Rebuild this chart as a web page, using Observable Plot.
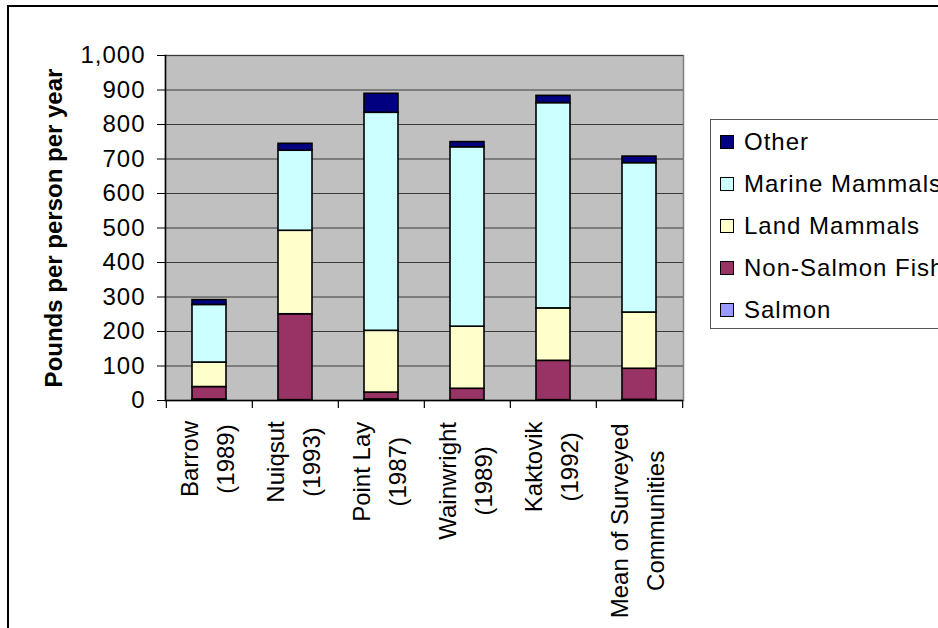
<!DOCTYPE html>
<html>
<head>
<meta charset="utf-8">
<script src="https://cdn.jsdelivr.net/npm/d3@7"></script>
<script src="https://cdn.jsdelivr.net/npm/@observablehq/plot@0.6"></script>
<style>
  html, body { margin: 0; padding: 0; background: #fff; overflow: hidden; width: 938px; height: 628px; }
  #wrap { position: relative; width: 938px; height: 628px; overflow: hidden; font-family: "Liberation Sans", Arial, sans-serif; }
  #frame { position: absolute; left: 7px; top: 5px; width: 1000px; height: 700px; border: 2px solid #000; box-sizing: border-box; }
  #chart { position: absolute; left: 0; top: 0; }
  #legend { position: absolute; left: 710px; top: 119px; width: 300px; height: 210px; border: 1px solid #555; background: #fff; box-sizing: border-box; }
  .item { position: absolute; left: 9px; height: 30px; display: flex; align-items: center; font-size: 24px; letter-spacing: 1px; color: #000; white-space: nowrap; }
  .sw { width: 12px; height: 12px; border: 1px solid #000; margin-right: 10px; }
</style>
</head>
<body>
<div id="wrap">
  <div id="frame"></div>
  <div id="chart"></div>
  <div id="legend"></div>
</div>
<script>
// ---- data ----
const communities = ["Barrow\n(1989)", "Nuiqsut\n(1993)", "Point Lay\n(1987)", "Wainwright\n(1989)", "Kaktovik\n(1992)", "Mean of Surveyed\nCommunities"];
const seriesOrder = ["Salmon", "Non-Salmon Fish", "Land Mammals", "Marine Mammals", "Other"];
const legendOrder = ["Other", "Marine Mammals", "Land Mammals", "Non-Salmon Fish", "Salmon"];
const seriesColors = ["#9999FF", "#993366", "#FFFFCC", "#CCFFFF", "#000080"];
const salmon = [3, 1, 3, 1, 1, 2];
const nonSalmonFish = [36, 249, 20, 33, 114, 90];
const landMammals = [71, 242, 179, 180, 152, 163];
const marineMammals = [167, 232, 632, 520, 595, 433];
const other = [14, 20, 55, 15, 21, 19];
const yTicks = [0, 100, 200, 300, 400, 500, 600, 700, 800, 900, 1000];
const yTitle = "Pounds per person per year";

const seriesValues = [salmon, nonSalmonFish, landMammals, marineMammals, other];
const rows = [];
seriesOrder.forEach((s, si) => {
  communities.forEach((c, ci) => rows.push({community: c, type: s, value: seriesValues[si][ci]}));
});

const W = 938, H = 628;
const mL = 165, mR = 255, mT = 55, mB = 228;
const step = (W - mL - mR) / communities.length;
const fontFam = "'Liberation Sans', Arial, sans-serif";
const fs = 24;
const lsX = 0.5;

const canvas = document.createElement("canvas");
const ctx = canvas.getContext("2d");
ctx.font = fs + "px 'Liberation Sans'";
const longest = (s) => Math.max(...s.split("\n").map(l => ctx.measureText(l).width + l.length * lsX));

const labelMarks = communities.map(c => Plot.text([c], {
  x: d => d, frameAnchor: "bottom", rotate: -90, textAnchor: "middle", lineAnchor: "middle",
  dx: -5, dy: 19 + longest(c) / 2, fontSize: fs, lineHeight: 1.52, fill: "#000", ariaLabel: "xlabel"
}));

const chart = Plot.plot({
  width: W, height: H,
  marginLeft: mL, marginRight: mR, marginTop: mT, marginBottom: mB,
  style: {fontFamily: fontFam, background: "transparent", color: "#000", overflow: "visible"},
  x: {domain: communities, paddingInner: 0.6, paddingOuter: 0.3, axis: null},
  y: {domain: [0, 1000], axis: null},
  color: {domain: seriesOrder, range: seriesColors},
  marks: [
    Plot.frame({fill: "#C0C0C0", stroke: "#808080", strokeWidth: 1.5}),
    Plot.gridY(yTicks, {stroke: "#3a3a3a", strokeOpacity: 1, strokeWidth: 1.2}),
    Plot.barY(rows, {x: "community", y: "value", fill: "type", stroke: "#000", strokeWidth: 1.6, order: seriesOrder}),
    Plot.ruleY([0], {stroke: "#000", strokeWidth: 1.5}),
    Plot.frame({anchor: "left", stroke: "#000", strokeWidth: 1.5}),
    Plot.axisY(yTicks, {tickSize: 8, tickPadding: 12, tickFormat: d3.format(","), fontSize: fs, stroke: "#000", fill: "#000", label: null}),
    Plot.ruleX(communities, {x: d => d, dx: -step / 2, insetTop: H - mT - mB, insetBottom: -8, stroke: "#000", strokeWidth: 1.2}),
    Plot.ruleX([communities[communities.length - 1]], {x: d => d, dx: step / 2, insetTop: H - mT - mB, insetBottom: -8, stroke: "#000", strokeWidth: 1.2}),
    Plot.text([yTitle], {frameAnchor: "left", dx: -111, rotate: -90, textAnchor: "middle", lineAnchor: "middle", fontWeight: "bold", fontSize: 24, fill: "#000", ariaLabel: "ytitle"}),
    ...labelMarks
  ]
});
document.getElementById("chart").appendChild(chart);
d3.select(chart).selectAll('g[aria-label="y-axis tick label"] text').style("letter-spacing", "1px");
d3.select(chart).selectAll('g[aria-label="xlabel"] text').style("letter-spacing", lsX + "px");
d3.select(chart).selectAll('g[aria-label="ytitle"] text').style("letter-spacing", "1px");

const legend = document.getElementById("legend");
legendOrder.forEach((s, i) => {
  const item = document.createElement("div");
  item.className = "item";
  item.style.top = (7 + i * 42) + "px";
  const sw = document.createElement("div");
  sw.className = "sw";
  sw.style.background = seriesColors[seriesOrder.indexOf(s)];
  const t = document.createElement("span");
  t.textContent = s;
  item.appendChild(sw); item.appendChild(t);
  legend.appendChild(item);
});
</script>
</body>
</html>
